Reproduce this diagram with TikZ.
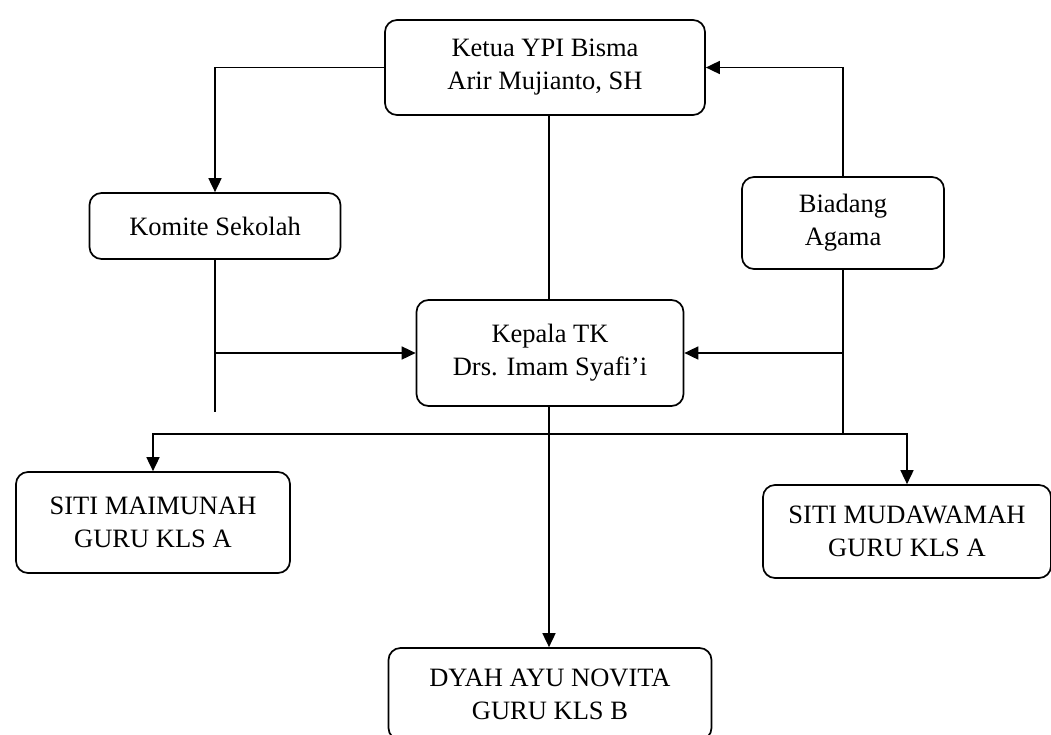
\documentclass[tikz,border=0pt]{standalone}
\usepackage{fontspec}
\setmainfont{Liberation Serif}
\usetikzlibrary{arrows.meta, positioning}

\begin{document}
\begin{tikzpicture}[x=1pt, y=-1pt,
    box/.style={draw, line width=1.7pt, rounded corners=12pt, align=center,
                inner sep=0pt},
    link/.style={line width=1.7pt},
    >={Triangle[length=14pt, width=13pt]}]
\fontsize{26.5}{33}\selectfont
        \useasboundingbox (0, 0) rectangle (1051, 734);
        % Draw the boxes
        \node[box, minimum width=320pt, minimum height=95pt]  at (545, 67.5)  (ketua)     {Ketua YPI Bisma\\Arir Mujianto, SH};
        \node[box, minimum width=251pt, minimum height=66pt]  at (215, 226)   (komite)    {Komite Sekolah};
        \node[box, minimum width=202pt, minimum height=92pt]  at (843, 223)   (bidang)    {Biadang\\Agama};
        \node[box, minimum width=267pt, minimum height=106pt] at (550, 353)   (kepala)    {Kepala TK\\Drs. Imam Syafi'i};
        \node[box, minimum width=274pt, minimum height=101pt] at (153, 522.5) (maimunah)  {SITI MAIMUNAH\\GURU KLS A};
        \node[box, minimum width=288pt, minimum height=93pt]  at (907, 531.5) (mudawamah) {SITI MUDAWAMAH\\GURU KLS A};
        \node[box, minimum width=323pt, minimum height=92pt]  at (550, 694)   (dyah)      {DYAH AYU NOVITA\\GURU KLS B};
        % Free ends of the lines
        \coordinate (komiteend) at (215, 412);
        \coordinate (bidangend) at (843, 434);
        \coordinate (bus)       at (549, 434);
        % Connect the boxes
        \draw[link, ->] (ketua.west) -| (komite.north);
        \draw[link, ->] (bidang.north) |- (ketua.east);
        \draw[link] (ketua.south -| bus) -- (kepala.north -| bus);
        \draw[link] (komite.south) -- (komiteend);
        \draw[link, ->] (komite.south |- kepala.west) -- (kepala.west);
        \draw[link] (bidang.south) -- (bidangend);
        \draw[link, ->] (bidang.south |- kepala.east) -- (kepala.east);
        \draw[link, ->] (bus) -| (maimunah.north);
        \draw[link, ->] (bus) -| (mudawamah.north);
        \draw[link, ->] (kepala.south -| bus) -- (dyah.north -| bus);
\end{tikzpicture}
\end{document}
